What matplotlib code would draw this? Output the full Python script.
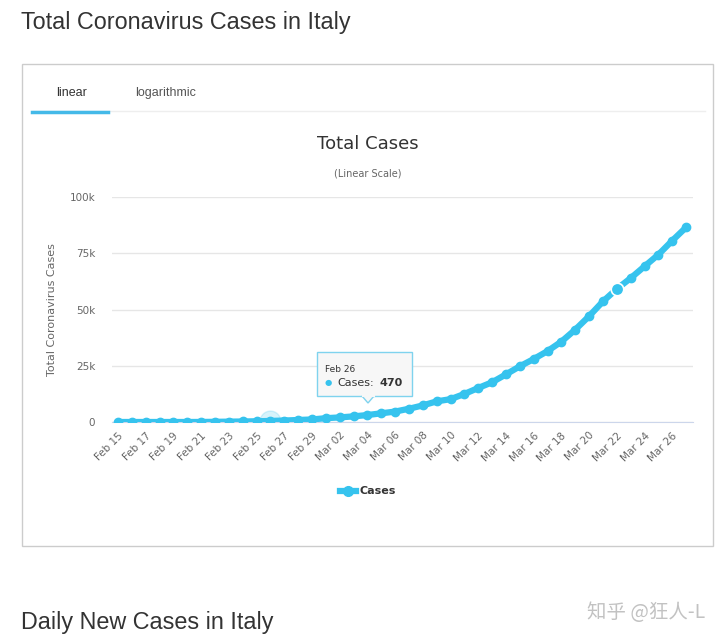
import numpy as np
import matplotlib.pyplot as plt
from matplotlib.patches import Rectangle, Polygon
from matplotlib.lines import Line2D

plt.rcParams['font.family'] = ['Liberation Sans', 'DejaVu Sans']

# Data: total cases in Italy, Feb 15 .. Mar 27
dates = ['Feb 15', 'Feb 16', 'Feb 17', 'Feb 18', 'Feb 19', 'Feb 20', 'Feb 21',
         'Feb 22', 'Feb 23', 'Feb 24', 'Feb 25', 'Feb 26', 'Feb 27', 'Feb 28',
         'Feb 29', 'Mar 01', 'Mar 02', 'Mar 03', 'Mar 04', 'Mar 05', 'Mar 06',
         'Mar 07', 'Mar 08', 'Mar 09', 'Mar 10', 'Mar 11', 'Mar 12', 'Mar 13',
         'Mar 14', 'Mar 15', 'Mar 16', 'Mar 17', 'Mar 18', 'Mar 19', 'Mar 20',
         'Mar 21', 'Mar 22', 'Mar 23', 'Mar 24', 'Mar 25', 'Mar 26', 'Mar 27']
cases = [3, 3, 3, 3, 3, 3, 20, 79, 157, 229, 323, 470, 655, 889, 1128, 1694,
         2036, 2502, 3089, 3858, 4636, 5883, 7375, 9172, 10149, 12462, 15113,
         17660, 21157, 24747, 27980, 31506, 35713, 41035, 47021, 53578, 59138,
         63927, 69176, 74386, 80589, 86498]
yticks = [0, 25000, 50000, 75000, 100000]
ytick_labels = ['0', '25k', '50k', '75k', '100k']

W, H = 720, 642
blue = '#36C3EE'
fig = plt.figure(figsize=(W / 100, H / 100), dpi=100)


def fx(px):
    return px / W


def fy(py):
    return 1 - py / H


# page headings
fig.text(fx(21), fy(22), 'Total Coronavirus Cases in Italy', fontsize=16.8,
         color='#333333', va='center', ha='left')
fig.text(fx(21), fy(623), 'Daily New Cases in Italy', fontsize=16.8,
         color='#333333', va='center', ha='left')
fig.text(fx(705), fy(612), '知乎 @狂人-L', fontsize=14, color='#c2c2c2',
         va='center', ha='right',
         family=['Noto Sans CJK SC', 'DejaVu Sans'])

# panel box
fig.patches.append(Rectangle((fx(22), fy(546)), fx(713) - fx(22), fy(64) - fy(546),
                             transform=fig.transFigure, fill=False,
                             edgecolor='#cccccc', linewidth=1))
# tabs
fig.lines.append(Line2D([fx(32), fx(705)], [fy(111), fy(111)],
                        transform=fig.transFigure, color='#eeeeee', lw=1))
fig.lines.append(Line2D([fx(32), fx(108)], [fy(112), fy(112)],
                        transform=fig.transFigure, color='#44b9e8', lw=2.5))
fig.text(fx(72), fy(93), 'linear', fontsize=9, color='#333333',
         ha='center', va='center')
fig.text(fx(166), fy(93), 'logarithmic', fontsize=9, color='#555555',
         ha='center', va='center')

# chart titles
fig.text(fx(368), fy(144), 'Total Cases', fontsize=13, color='#333333',
         ha='center', va='center', family=['DejaVu Sans'])
fig.text(fx(368), fy(174), '(Linear Scale)', fontsize=7, color='#666666',
         ha='center', va='center', family=['DejaVu Sans'])

ax = fig.add_axes([fx(112), fy(422), fx(693) - fx(112), fy(197) - fy(422)])
x = np.arange(len(dates))
ax.plot(x, cases, color=blue, lw=4.5, marker='o', ms=6, zorder=3,
        solid_capstyle='round', solid_joinstyle='round')
# hovered point and highlighted point
ax.plot(x[11], cases[11], 'o', ms=15, color=blue, alpha=0.2, zorder=2)
ax.plot(x[36], cases[36], 'o', ms=9, color=blue, mec='white', mew=1.2, zorder=4)

ax.set_xlim(-0.43, len(dates) - 0.5)
ax.set_ylim(0, 100000)
ax.set_yticks(yticks)
ax.set_yticklabels(ytick_labels)
ax.set_xticks(x[::2])
ax.set_xticklabels(dates[::2], rotation=45, ha='right', rotation_mode='anchor')
ax.grid(axis='y', color='#e6e6e6', lw=1)
ax.set_axisbelow(True)
for s in ['top', 'right', 'left']:
    ax.spines[s].set_visible(False)
ax.spines['bottom'].set_color('#ccd6eb')
ax.tick_params(axis='both', length=0, labelsize=7.5, colors='#666666',
               labelfontfamily='DejaVu Sans')
ax.tick_params(axis='y', pad=12)
ax.tick_params(axis='x', pad=6)
ax.set_ylabel('Total Coronavirus Cases', fontsize=8, color='#666666',
              family=['DejaVu Sans'], labelpad=9)

# tooltip
fig.patches.append(Rectangle((fx(317), fy(396)), fx(412) - fx(317), fy(352) - fy(396),
                             transform=fig.transFigure, facecolor='#f7f7f7',
                             edgecolor='#7fd3ee', lw=1, zorder=5))
fig.patches.append(Polygon([[fx(362), fy(396)], [fx(368), fy(403)], [fx(374), fy(396)]],
                           closed=True, transform=fig.transFigure,
                           facecolor='#f7f7f7', edgecolor='#7fd3ee', lw=1, zorder=5))
fig.lines.append(Line2D([fx(362.5), fx(373.5)], [fy(396), fy(396)],
                        transform=fig.transFigure, color='#f7f7f7', lw=1.5, zorder=6))
fig.text(fx(325), fy(369), 'Feb 26', fontsize=6.5, color='#333333',
         va='center', family=['DejaVu Sans'], zorder=7)
fig.text(fx(325), fy(383), '●', fontsize=6, color=blue, va='center',
         family=['DejaVu Sans'], zorder=7)
fig.text(fx(337), fy(383), 'Cases:', fontsize=8, color='#333333',
         va='center', family=['DejaVu Sans'], zorder=7)
fig.text(fx(379), fy(383), '470', fontsize=8, color='#333333', weight='bold',
         va='center', family=['DejaVu Sans'], zorder=7)

# legend
fig.lines.append(Line2D([fx(340), fx(356)], [fy(491), fy(491)],
                        transform=fig.transFigure, color=blue, lw=4.5))
fig.lines.append(Line2D([fx(348)], [fy(491)], transform=fig.transFigure,
                        color=blue, marker='o', ms=7))
fig.text(fx(360), fy(491), 'Cases', fontsize=8, weight='bold', color='#333333',
         va='center', family=['DejaVu Sans'])

fig.savefig('out.png', dpi=100, facecolor='white')
